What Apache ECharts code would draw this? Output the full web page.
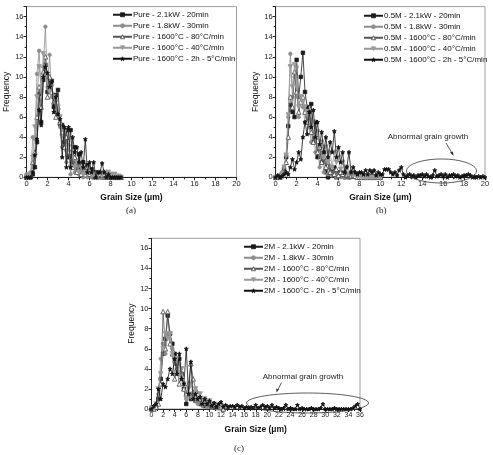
<!DOCTYPE html>
<html><head><meta charset="utf-8">
<script src="https://cdn.jsdelivr.net/npm/echarts@6/dist/echarts.min.js"></script>
<style>html,body{margin:0;padding:0;background:#fff}#c{width:493px;height:455px}</style>
</head><body><div id="c"></div>
<script>
// ---------- DATA ----------
const binStepA = 0.2, binStepB = 0.2, binStepC = 0.4;
const namesA = ['Pure - 2.1kW - 20min','Pure - 1.8kW - 30min','Pure - 1600\u00B0C - 80\u00B0C/min','Pure - 1600\u00B0C - 40\u00B0C/min','Pure - 1600\u00B0C - 2h - 5\u00B0C/min'];
const namesB = ['0.5M - 2.1kW - 20min','0.5M - 1.8kW - 30min','0.5M - 1600\u00B0C - 80\u00B0C/min','0.5M - 1600\u00B0C - 40\u00B0C/min','0.5M - 1600\u00B0C - 2h - 5\u00B0C/min'];
const namesC = ['2M - 2.1kW - 20min','2M - 1.8kW - 30min','2M - 1600\u00B0C - 80\u00B0C/min','2M - 1600\u00B0C - 40\u00B0C/min','2M - 1600\u00B0C - 2h - 5\u00B0C/min'];

const a1 = [0,0,0,0.3,1.0,3.5,8.3,5.5,9.7,11.2,8.5,9.7,9.6,7.0,8.2,8.7,5.3,5.2,3.5,4.7,2.0,4.7,1.5,3.0,1.0,2.3,0.8,1.5,0.5,1.2,0.3,0.8,0,0.5,0,0.3,0,0,0,0,0,0,0,0,0,0];
const a2 = [0.3,0.3,0.5,4.0,3.8,10.3,12.6,8.5,11.0,15.0,9.0,12.2,8.0,8.0,6.5,6.0,5.0,3.0,4.0,1.5,3.2,0.3,2.0,0.5,1.0,0.3,0.5,0,0.8,0,0.3,0,0.2,0,0.1,0,0,0,0,0,0,0,0,0,0,0];
const a3 = [0,0,0.2,1.5,2.5,6.0,9.0,7.0,10.5,12.0,8.0,10.0,8.5,7.5,6.0,7.0,5.5,4.5,3.0,4.0,2.5,2.5,1.0,2.0,0.5,1.5,0.3,1.0,0.5,1.0,0.3,0.5,0.2,0.5,0.2,0.3,0.2,0.3,0.2,0.3,0.1,0.2,0,0,0,0];
const a4 = [0,0,0.3,2.0,5.0,8.0,11.0,9.0,12.3,10.0,9.5,8.5,9.0,8.0,7.5,7.0,6.0,4.0,4.5,2.5,3.0,1.0,2.5,1.0,1.5,0.5,1.0,0.3,0.5,0.3,0.5,0.2,0.3,0,0.2,0.5,0.2,0.5,0.3,0.5,0.3,0.2,0.3,0.1,0.1,0];
const a5 = [0,0,0,0.5,2.2,3.8,6.7,5.2,10.0,11.0,10.4,9.0,9.5,6.5,8.0,6.3,5.8,2.0,5.0,1.0,5.0,1.0,4.0,2.5,3.0,1.5,2.5,1.0,3.8,0.5,1.5,0.5,1.5,0,0.5,0.5,1.4,0.5,0,0.3,0,0,0,0,0,0];

const b1 = [0,0,0,0.3,0.8,2.0,5.1,7.2,6.5,6.0,11.7,8.0,10.0,12.4,8.5,7.0,6.5,7.3,3.5,5.5,2.0,3.0,1.5,2.5,0.5,0,1.0,0.5,1.0,0,0.5,0.3,0.5,0,0.3,0,0.3,0.5,0.2,0.3,0,0.2,0,0.1,0,0,0.1,0,0,0,0];
const b2 = [0,0,0.2,0.5,1.0,2.2,6.0,12.3,8.0,10.0,11.0,6.0,8.0,7.0,5.5,6.0,5.0,3.5,4.5,2.5,3.0,1.0,2.5,0.5,1.5,0.3,1.0,0.2,0.5,0,0.3,0,0.2,0,0.1,0,0,0.1,0,0,0,0,0,0,0,0,0,0,0,0,0];
const b3 = [0,0,0,0.2,0.5,1.5,4.0,8.0,7.0,10.5,8.5,6.5,7.5,8.0,6.5,5.5,6.0,4.5,3.5,4.0,2.5,3.0,1.5,2.0,1.0,1.5,0.5,1.0,0.3,0.8,0.2,0.5,0.3,0.5,0.2,0.3,0.1,0.2,0.1,0,0,0,0,0,0,0,0,0,0,0,0];
const b4 = [0,0,0,0.3,1.0,2.2,6.2,11.0,9.0,11.2,9.0,7.0,8.0,7.5,7.0,6.5,6.0,5.0,5.5,4.0,4.5,3.0,3.5,2.0,3.0,1.5,2.5,1.0,2.5,1.5,2.0,0.8,1.5,0.5,1.0,0.3,0.5,0.2,0.3,0.1,0.2,0,0.1,0,0,0,0,0,0,0,0];
const b5 = [0,0.2,0,0.1,0.3,0.5,0.3,1.0,1.8,0.8,1.5,2.5,1.8,4.0,5.5,4.3,6.5,5.0,6.7,4.0,5.5,3.3,4.5,2.5,4.0,2.0,3.5,2.5,4.6,2.0,3.0,1.5,2.5,0.5,1.0,2.5,0.5,1.0,0.5,0.3,0.5,0.5,0.3,0.7,0.3,0.7,0.5,0.7,0.2,0.5,0.3,0.3,0.8,0.8,0.8,0.5,0.3,0.5,0.2,0.7,1.0,0.3,0,0.2,0.3,0.1,0.2,0,0.2,0.2,0.3,0.1,0.3,0.1,0,0.2,0.7,0.1,0.2,0.3,0.1,0.3,0,0.2,0.2,0.3,0.1,0.2,0,0.1,0.2,0.2,0.3,0.2,0,0.1,0,0.1,0,0.1,0];

const c1 = [0,0.2,0.3,1.0,3.0,5.5,7.0,9.3,7.5,6.5,5.5,4.5,5.0,3.5,2.0,0.5,1.5,1.0,1.5,0.8,1.0,0.5,0.8,0.3,0.5,0.3,0.5,0.2,0.3,0.1,0.2,0];
const c2 = [0.2,0.1,0.3,1.5,5.0,6.5,5.5,7.5,7.6,6.0,5.0,4.0,4.5,3.0,2.5,1.0,1.5,1.2,1.0,0.8,0.5,0.8,0.3,0.5,0.2,0.3,0.1,0.2,0.1,0.1,0,0];
const c3 = [0,0,0.2,0.5,2.5,9.7,6.0,9.7,6.5,5.5,3.0,4.0,2.5,3.5,2.0,1.5,2.5,4.5,3.0,2.0,1.5,1.0,0.8,1.0,0.5,0.8,0.3,0.5,0.3,0.4,0.2,0];
const c4 = [0,0.1,0.5,2.0,3.5,6.0,7.5,7.0,7.5,5.5,4.5,5.0,3.5,4.0,2.5,1.0,2.0,2.5,1.5,2.0,1.0,1.5,0.8,1.0,0.5,0.8,0.5,0.5,0.3,0.4,0.3,0.2];
const c5 = [0,0.3,0.5,2.0,1.0,2.5,2.2,3.0,4.0,3.5,5.0,3.5,5.5,3.0,2.5,6.0,1.5,4.7,1.0,1.5,1.0,1.2,0.5,1.0,0.5,0.8,0.3,0.6,0.2,0.5,0.7,0.2,0.4,0.2,0.3,0.3,0.2,0.4,0.2,0.3,0.1,0.2,0.1,0.2,0.1,0.4,0.1,0.2,0.4,0.2,0.3,0.1,0.4,0.1,0.2,0.1,0,0.1,0.4,0,0.1,0,0,0.4,0,0.1,0,0,0,0.1,0,0,0,0.1,0.5,0,0,0,0,0.1,0,0,0,0,0,0,0,0.1,0.3,0.5,0];

const xTicksA = [0,2,4,6,8,10,12,14,16,18,20];
const xTicksC = [0,2,4,6,8,10,12,14,16,18,20,22,24,26,28,30,32,34,36];
const yTicks = [0,2,4,6,8,10,12,14,16];

// ---------- CHART ----------
const FONT = '"Liberation Sans",Arial,sans-serif';
const STAR = 'path://M0,-10 L2.4,-3.1 9.5,-3.1 3.8,1.2 5.9,8.1 0,4 -5.9,8.1 -3.8,1.2 -9.5,-3.1 -2.4,-3.1Z';
const styles = [
  {symbol:'rect', size:3.5, color:'#1a1a1a', fill:'#1a1a1a', line:'#1a1a1a'},
  {symbol:'circle', size:3.5, color:'#8c8c8c', fill:'#8c8c8c', line:'#8c8c8c'},
  {symbol:'triangle', size:4.5, color:'#444', fill:'#ffffff', line:'#555'},
  {symbol:'triangle', size:4.5, color:'#999', fill:'#999', line:'#999', rotate:180},
  {symbol:STAR, size:4, color:'#111', fill:'#111', line:'#111'}
];
function toPairs(ys, step){ return ys.map((y,i)=>[+(i*step).toFixed(2), y]); }
function mkSeries(names, arrs, step, gi){
  return arrs.map((ys,k)=>{
    const s = styles[k];
    return {
      name:names[k], type:'line', xAxisIndex:gi, yAxisIndex:gi,
      data:toPairs(ys, step), symbol:s.symbol, symbolSize:s.size, symbolRotate:s.rotate||0,
      showSymbol:true, showAllSymbol:true,
      lineStyle:{color:s.line, width:0.8},
      itemStyle:{color:s.fill, borderColor:s.color, borderWidth:0.8},
      emphasis:{disabled:true}, z: 2+k
    };
  });
}
function mkX(gi, max, ticks, fs){
  return {gridIndex:gi, type:'value', min:0, max:max, interval:2,
    axisLine:{lineStyle:{color:'#222', width:1}},
    axisTick:{length:3, lineStyle:{color:'#222'}},
    minorTick:{show:true, splitNumber:2, length:2, lineStyle:{color:'#222'}},
    splitLine:{show:false},
    axisLabel:{fontSize:fs, color:'#222', margin:3, fontFamily:FONT,
      formatter:v=> ticks.indexOf(v)>=0 ? String(v) : ''},
    name:'Grain Size (\u03BCm)', nameLocation:'middle', nameGap:16,
    nameTextStyle:{fontWeight:'bold', fontSize:8.5, color:'#111', fontFamily:FONT}};
}
function mkY(gi){
  return {gridIndex:gi, type:'value', min:0, max:17, interval:2,
    axisLine:{show:true, lineStyle:{color:'#222', width:1}},
    axisTick:{show:true, length:3, lineStyle:{color:'#222'}},
    minorTick:{show:true, splitNumber:2, length:2, lineStyle:{color:'#222'}},
    splitLine:{show:false},
    axisLabel:{fontSize:7.5, color:'#222', margin:3, fontFamily:FONT,
      formatter:v=> yTicks.indexOf(v)>=0 ? String(v) : ''},
    name:'Frequency', nameLocation:'middle', nameGap:14,
    nameTextStyle:{fontSize:8.5, color:'#111', fontFamily:FONT}};
}
function mkLegend(names, left, top){
  return {data:names.map((n,k)=>({name:n, itemStyle:{color:styles[k].fill, borderColor:styles[k].color, borderWidth:0.8}})),
    orient:'vertical', left:left, top:top, itemWidth:19, itemHeight:5, itemGap:1.5,
    padding:0, selectedMode:false,
    textStyle:{fontSize:8, lineHeight:9.5, color:'#111', fontFamily:FONT, padding:[0,0,0,-4]}};
}
const chart = echarts.init(document.getElementById('c'), null, {renderer:'canvas'});
const gridBase = {show:true, borderColor:'#a0a0a0', borderWidth:1, backgroundColor:'transparent'};
chart.setOption({
  animation:false,
  backgroundColor:'#fff',
  grid:[
    Object.assign({left:26.5, width:210, top:6.6, height:170.7}, gridBase),
    Object.assign({left:275.7, width:209.3, top:6.6, height:170.7}, gridBase),
    Object.assign({left:151.5, width:208.5, top:238.3, height:170.7}, gridBase)
  ],
  xAxis:[mkX(0,20,xTicksA,7.5), mkX(1,20,xTicksA,7.5), mkX(2,36,xTicksC,7)],
  yAxis:[mkY(0), mkY(1), mkY(2)],
  legend:[mkLegend(namesA,112,10), mkLegend(namesB,363,11), mkLegend(namesC,243,242)],
  series:[].concat(mkSeries(namesA,[a1,a2,a3,a4,a5],binStepA,0),
                   mkSeries(namesB,[b1,b2,b3,b4,b5],binStepB,1),
                   mkSeries(namesC,[c1,c2,c3,c4,c5],binStepC,2)),
  graphic:[
    {type:'text', left:126, top:206, style:{text:'(a)', font:'9px "Liberation Serif", serif', fill:'#222'}},
    {type:'text', left:376, top:206, style:{text:'(b)', font:'9px "Liberation Serif", serif', fill:'#222'}},
    {type:'text', left:234, top:444, style:{text:'(c)', font:'9px "Liberation Serif", serif', fill:'#222'}},
    {type:'ellipse', shape:{cx:441.5, cy:171, rx:35, ry:12}, style:{fill:null, stroke:'#333', lineWidth:0.8}, z:10},
    {type:'text', x:428, y:137, style:{text:'Abnormal grain growth', font:'8px '+FONT, fill:'#222', align:'center', verticalAlign:'middle'}},
    {type:'line', shape:{x1:446, y1:143, x2:452.5, y2:154}, style:{stroke:'#333', lineWidth:0.8}},
    {type:'polygon', shape:{points:[[453.5,156],[450,152.5],[453,151.5]]}, style:{fill:'#333'}},
    {type:'ellipse', shape:{cx:307.5, cy:403, rx:61, ry:10}, style:{fill:null, stroke:'#333', lineWidth:0.8}, z:10},
    {type:'text', x:303, y:376.5, style:{text:'Abnormal grain growth', font:'8px '+FONT, fill:'#222', align:'center', verticalAlign:'middle'}},
    {type:'line', shape:{x1:281.5, y1:382.5, x2:277.5, y2:390.5}, style:{stroke:'#333', lineWidth:0.8}},
    {type:'polygon', shape:{points:[[276.5,392.5],[276.2,388.5],[279,389.5]]}, style:{fill:'#333'}}
  ]
});
</script></body></html>
